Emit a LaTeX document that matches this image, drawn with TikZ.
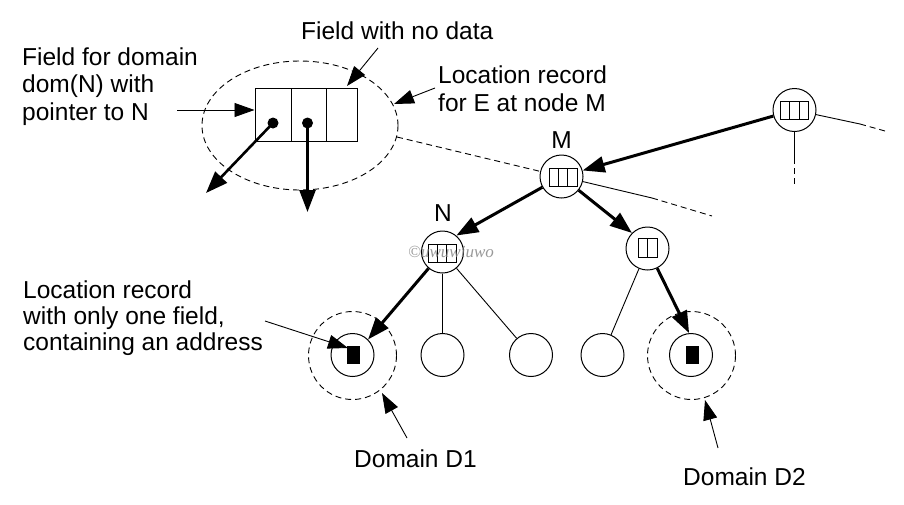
\documentclass[tikz,border=0pt]{standalone}
\usepackage{fontspec}
\setmainfont{Liberation Sans}
\newfontfamily\wmfont{Liberation Serif}
\usetikzlibrary{arrows.meta,shapes.geometric}
\begin{document}
\begin{tikzpicture}[x=1pt,y=-1pt,
  thinln/.style={line width=0.9pt},
  thickarr/.style={line width=3pt,-{Triangle[length=22pt,width=16pt]}},
  thinarr/.style={line width=0.9pt,-{Triangle[length=20pt,width=14pt]}},
  dsh/.style={line width=0.9pt,dash pattern=on 6pt off 4pt},
  tnode/.style={circle,draw,line width=1pt,minimum size=43pt,inner sep=0pt},
  lbl/.style={font=\fontsize{24.5}{27.5}\selectfont,inner sep=0pt,align=left},
  rthree/.pic={\draw[line width=1pt] (-14,-9) rectangle (14,9);
               \draw[line width=1pt] (-4.67,-9) -- (-4.67,9) (4.67,-9) -- (4.67,9);},
  rtwo/.pic={\draw[line width=1pt] (-9.5,-9.5) rectangle (9.5,9.5);
             \draw[line width=1pt] (0,-9.5) -- (0,9.5);},
  addr/.pic={\fill (-6.5,-9) rectangle (6.5,9);}
]
\useasboundingbox (0,0) rectangle (904,504);
\fill[white] (0,0) rectangle (904,504);

% ---- tree nodes
\node[tnode] (T) at (794.5,110) {};
\node[tnode] (M) at (561.5,176.5) {};
\node[tnode,minimum size=42pt] (N) at (442.5,252) {};
\node[tnode] (P) at (647.5,248.5) {};
\node[tnode] (L1) at (352.5,355) {};
\node[tnode] (L2) at (442.5,355) {};
\node[tnode] (L3) at (531,355) {};
\node[tnode] (L4) at (602.5,355) {};
\node[tnode] (L5) at (691,355) {};
\node[circle,draw,dsh,minimum size=88pt,inner sep=0pt] (D1c) at (352.5,355.5) {};
\node[circle,draw,dsh,minimum size=88pt,inner sep=0pt] (D2c) at (691.5,355.5) {};

\pic at (794.5,110) {rthree};
\pic at (563,177) {rthree};
\pic at (442,253) {rthree};
\pic at (647.5,247.5) {rtwo};
\pic at (353.5,355) {addr};
\pic at (692,355) {addr};

% ---- tree edges
\draw[thickarr] (T) -- (M);
\draw[thickarr] (M) -- (N.50);
\draw[thickarr] (M) -- (P.135);
\draw[thickarr] (N) -- (L1.45);
\draw[thinln] (N) -- (L2);
\draw[thinln] (N) -- (L3);
\draw[thinln] (P) -- (L4);
\draw[thickarr] (P) -- (L5.95);

\coordinate (tr1) at (860,124);
\coordinate (tr2) at (885,131);
\coordinate (td1) at (794.5,158);
\coordinate (td2) at (794.5,186);
\coordinate (mr1) at (652,198);
\coordinate (mr2) at (712,216);
\draw[thinln] (T) -- (tr1);
\draw[dsh] (tr1) -- (tr2);
\draw[thinln] (T) -- (td1);
\draw[dsh] (td1) -- (td2);
\draw[thinln] (M) -- (mr1);
\draw[dsh] (mr1) -- (mr2);

% ---- location record detail
\node[ellipse,draw,dsh,minimum width=196pt,minimum height=129pt,inner sep=0pt] (E) at (300,125.5) {};
\coordinate (eM) at (397,137);
\draw[dsh] (eM) -- (M);
\node[draw,line width=1pt,minimum width=102pt,minimum height=53pt,inner sep=0pt] (rec) at (306,114.5) {};
\draw[line width=1pt] (291,88) -- (291,141) (326,88) -- (326,141);
\node[circle,fill,minimum size=11pt,inner sep=0pt] (dot1) at (273,123) {};
\node[circle,fill,minimum size=11pt,inner sep=0pt] (dot2) at (307.5,123) {};
\coordinate (p1) at (206,193);
\coordinate (p2) at (307.5,212);
\draw[thickarr,line width=2.6pt] (dot1.center) -- (p1);
\draw[thickarr,line width=2.6pt] (dot2.center) -- (p2);

% ---- labels (multi-line nodes: base = last line)
\node[lbl,anchor=base west] (tF) at (22,120) {Field for domain\\dom(N) with\\pointer to N};
\node[lbl,anchor=base west] (tND) at (301,39) {Field with no data};
\node[lbl,anchor=base west] (tLR) at (438,111) {Location record\\for E at node M};
\node[lbl,anchor=base] (tM) at (561.5,148) {M};
\node[lbl,anchor=base] (tN) at (443,221) {N};
\node[lbl,anchor=base west,font=\fontsize{24.5}{26}\selectfont] (tLO) at (23,350) {Location record\\with only one field,\\containing an address};
\node[lbl,anchor=base west] (tD1) at (354,467) {Domain D1};
\node[lbl,anchor=base west] (tD2) at (683,485) {Domain D2};

% ---- annotation arrows
\coordinate (a1) at (177,110);
\draw[thinarr] (a1) -- (rec.west |- a1);
\coordinate (a2s) at (378,48);
\coordinate (a2e) at (347,86);
\draw[thinarr] (a2s) -- (a2e);
\coordinate (a3s) at (435,88);
\coordinate (a3e) at (394,104);
\draw[thinarr] (a3s) -- (a3e);
\coordinate (a4s) at (265,321);
\coordinate (a4e) at (348,348);
\draw[thinarr] (a4s) -- (a4e);
\coordinate (a5s) at (407,438);
\coordinate (a5e) at (382,393);
\draw[thinarr] (a5s) -- (a5e);
\coordinate (a6s) at (718,448);
\coordinate (a6e) at (705,400);
\draw[thinarr] (a6s) -- (a6e);

% ---- watermark
\node[font=\wmfont\itshape\fontsize{17}{17}\selectfont,text=gray,opacity=0.8,inner sep=0pt] (wm) at (451,252) {\textcopyright uwuwiuwo};
\end{tikzpicture}
\end{document}
